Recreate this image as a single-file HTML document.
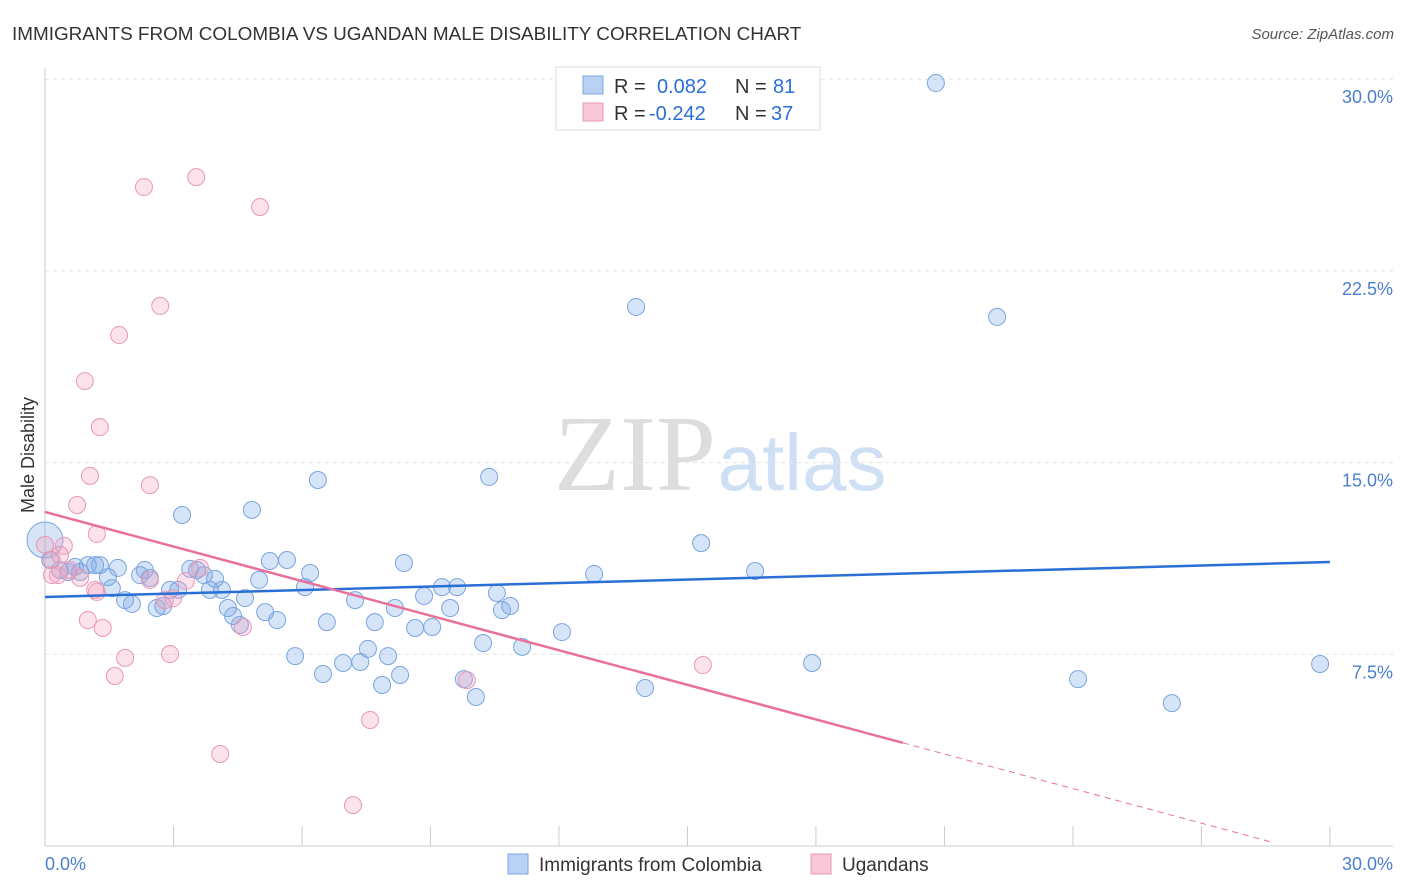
<!DOCTYPE html>
<html><head><meta charset="utf-8">
<style>
body{margin:0;background:#fff;font-family:"Liberation Sans",sans-serif;}
svg{display:block}
</style></head>
<body>
<svg id="c" width="1406" height="892">
<text x="12" y="40" font-size="18.9" fill="#333">IMMIGRANTS FROM COLOMBIA VS UGANDAN MALE DISABILITY CORRELATION CHART</text>
<text x="1394" y="39" font-size="15" fill="#555" font-style="italic" text-anchor="end">Source: ZipAtlas.com</text>
<g>
<text x="635" y="490" font-size="108" fill="#ddd" font-family="Liberation Serif,serif" text-anchor="middle">ZIP</text>
<text x="802" y="490" font-size="80" fill="#cfe0f5" text-anchor="middle">atlas</text>
</g>
<text transform="translate(34,455) rotate(-90)" font-size="18" fill="#333" text-anchor="middle">Male Disability</text>
<g id="grid"></g><g id="pts"></g><g id="lines"></g>
<g>
<rect x="556" y="67" width="264" height="63" fill="#fff" stroke="#ddd"/>
<rect x="583" y="76" width="20" height="18" fill="#b8d1f5" stroke="#7aa5e0"/>
<rect x="583" y="103" width="20" height="18" fill="#f9c8d8" stroke="#e898b5"/>
<text y="93" font-size="20" fill="#333"><tspan x="614">R =</tspan><tspan x="657" fill="#2a6fd6">0.082</tspan><tspan x="735">N =</tspan><tspan x="773" fill="#2a6fd6">81</tspan></text>
<text y="120" font-size="20" fill="#333"><tspan x="614">R =</tspan><tspan x="649" fill="#2a6fd6">-0.242</tspan><tspan x="735">N =</tspan><tspan x="771" fill="#2a6fd6">37</tspan></text>
</g>
<g>
<rect x="508" y="854" width="20" height="20" fill="#b8d1f5" stroke="#7aa5e0"/>
<text x="539" y="871" font-size="19" fill="#333">Immigrants from Colombia</text>
<rect x="811" y="854" width="20" height="20" fill="#f9c8d8" stroke="#e898b5"/>
<text x="842" y="871" font-size="19" fill="#333">Ugandans</text>
</g>
</svg>
<script>
const xTicks=[0,3,6,9,12,15,18,21,24,27,30];
const yTicks=[7.5,15,22.5,30];
const yTickLabels=["7.5%","15.0%","22.5%","30.0%"];
const blueX=[0,0.12,0.35,0.54,0.70,0.82,1.00,1.17,1.28,1.47,1.56,1.70,1.87,2.03,2.22,2.33,2.45,2.61,2.76,2.92,3.11,3.20,3.39,3.55,3.71,3.85,3.97,4.13,4.27,4.39,4.55,4.67,4.83,5.00,5.14,5.25,5.42,5.65,5.84,6.07,6.19,6.37,6.49,6.58,6.96,7.24,7.36,7.54,7.70,7.87,8.01,8.17,8.29,8.38,8.64,8.85,9.04,9.27,9.46,9.62,9.78,10.06,10.23,10.37,10.55,10.67,10.86,11.14,12.07,12.82,13.80,14.01,15.32,16.58,17.91,20.80,22.23,24.12,26.31,29.77];
const blueY=[11.97,11.19,10.80,10.72,10.92,10.72,10.99,10.99,10.99,10.52,10.09,10.88,9.62,9.47,10.60,10.80,10.49,9.31,9.39,10.02,10.02,12.95,10.84,10.80,10.60,10.02,10.45,10.02,9.31,9.00,8.65,9.70,13.15,10.41,9.15,11.15,8.84,11.19,7.43,10.13,10.68,14.32,6.73,8.76,7.16,9.62,7.20,7.71,8.76,6.30,7.43,9.31,6.69,11.07,8.53,9.78,8.57,10.13,9.31,10.13,6.53,5.83,7.94,14.44,9.90,9.23,9.39,7.79,8.37,10.64,21.09,6.18,11.85,10.76,7.16,29.85,20.70,6.53,5.59,7.12];
const pinkX=[0,0.16,0.30,0.44,0.58,0.75,0.82,0.93,1.00,1.05,1.21,1.21,1.35,1.63,1.73,1.87,2.31,2.45,2.45,2.69,2.80,2.92,3.29,3.53,3.62,4.09,4.62,5.02,7.19,7.59,9.85,15.36,0.16,0.35,1.28,2.99,1.17];
const pinkY=[11.78,11.19,10.60,11.74,10.80,13.34,10.49,18.19,8.84,14.48,12.21,9.94,8.53,6.65,19.99,7.36,25.78,14.12,10.41,21.13,9.62,7.51,10.37,26.17,10.88,3.60,8.57,25.00,1.60,4.93,6.49,7.08,10.60,11.39,16.39,9.70,10.02];
const blueTrend=[9.74,11.11];
const pinkTrend=[13.07,-0.451,20.03,28.7];
const NS="http://www.w3.org/2000/svg";
const X=v=>45+v*42.83, Y=v=>846-v*25.56;
function mk(tag,at,parent){const e=document.createElementNS(NS,tag);for(const k in at)e.setAttribute(k,at[k]);parent.appendChild(e);return e;}
const grid=document.getElementById('grid'),pts=document.getElementById('pts'),lines=document.getElementById('lines');
yTicks.forEach((t,i)=>{
 const l=mk('line',{x1:45,x2:1393,y1:Y(t),y2:Y(t),stroke:'#e2e2e2','stroke-dasharray':'4,4'},grid);
 
 
 const tx=mk('text',{x:1393,y:Y(t)+24,'font-size':18,fill:'#4a7fd0','text-anchor':'end'},grid);
 tx.textContent=yTickLabels[i];
 
 
});
const ax=mk('line',{x1:45,x2:1393,y1:846,y2:846,stroke:'#ccc'},grid);


const ay=mk('line',{x1:45,x2:45,y1:68,y2:846,stroke:'#ccc'},grid);


xTicks.forEach(t=>{
 const l=mk('line',{x1:X(t),x2:X(t),y1:826,y2:846,stroke:'#ccc'},grid);
 
 
});
const xl0=mk('text',{x:45,y:870,'font-size':18,fill:'#4a7fd0'},grid);xl0.textContent='0.0%';


const xl1=mk('text',{x:1393,y:870,'font-size':18,fill:'#4a7fd0','text-anchor':'end'},grid);xl1.textContent='30.0%';


blueX.forEach((v,i)=>{
 const c=mk('circle',{cx:X(v),cy:Y(blueY[i]),r:i==0?18:8.5,fill:'rgba(120,165,230,0.3)',stroke:'#7aa5e0','stroke-width':1},pts);
 
 
});
pinkX.forEach((v,i)=>{
 const c=mk('circle',{cx:X(v),cy:Y(pinkY[i]),r:8.5,fill:'rgba(245,160,190,0.3)',stroke:'#e898b5','stroke-width':1},pts);
 
 
});
const bl=mk('line',{x1:X(0),y1:Y(blueTrend[0]),x2:X(30),y2:Y(blueTrend[1]),stroke:'#2a6fd6','stroke-width':2.5},lines);


const pe=pinkTrend[2],pd=pinkTrend[3];
const pl=mk('line',{x1:X(0),y1:Y(pinkTrend[0]),x2:X(pe),y2:Y(pinkTrend[0]+pinkTrend[1]*pe),stroke:'#e8709a','stroke-width':2.5},lines);


const pdl=mk('line',{x1:X(pe),y1:Y(pinkTrend[0]+pinkTrend[1]*pe),x2:X(pd),y2:Y(pinkTrend[0]+pinkTrend[1]*pd),stroke:'#e8709a','stroke-width':1,'stroke-dasharray':'6,5'},lines);


</script>
</body></html>
